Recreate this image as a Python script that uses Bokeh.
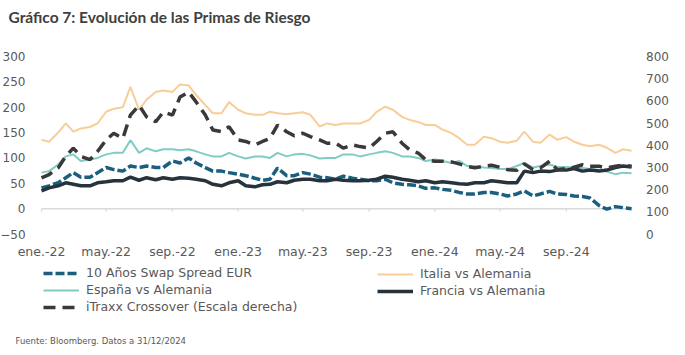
import pandas as pd
from bokeh.plotting import figure
from bokeh.models import (Range1d, LinearAxis, FixedTicker, Legend,
                          LegendItem, Label)
from bokeh.embed import file_html
from bokeh.resources import INLINE

# ---------------- data (semi-monthly) ----------------
dates = [f"{y}-{m:02d}-{d:02d}" for y in (2022, 2023, 2024)
         for m in range(1, 13) for d in (1, 15)] + ["2024-12-31"]

swap = [41, 45, 51, 61, 71, 62, 62, 71, 81, 77, 74, 84, 81, 84, 81, 81, 94, 90, 100, 90, 81, 74, 74, 71,
        68, 65, 60, 56, 58, 80, 65, 65, 71, 68, 62, 61, 58, 64, 60, 58, 55, 55, 58, 51, 48, 47, 45, 40,
        41, 38, 36, 32, 29, 29, 32, 32, 29, 25, 29, 35, 25, 29, 34, 29, 28, 25, 24, 21, 6, -1, 4, 2, 0]

italia = [136, 132, 150, 168, 152, 158, 161, 168, 191, 197, 200, 240, 195, 215, 230, 233, 230, 245, 243, 224, 204, 188, 188, 210,
          195, 188, 185, 185, 191, 188, 186, 188, 190, 185, 162, 168, 165, 168, 168, 168, 175, 191, 201, 195, 181, 175, 171, 165,
          165, 156, 149, 139, 126, 126, 142, 139, 132, 130, 134, 152, 132, 130, 146, 136, 141, 132, 126, 123, 126, 120, 110, 117, 114]

espana = [71, 74, 87, 103, 107, 94, 97, 100, 107, 110, 110, 135, 110, 119, 113, 117, 117, 115, 117, 113, 107, 103, 103, 110,
          103, 99, 103, 103, 100, 110, 103, 107, 108, 105, 99, 100, 100, 107, 107, 103, 107, 110, 113, 110, 103, 103, 100, 94,
          97, 94, 90, 94, 84, 84, 81, 80, 78, 78, 84, 90, 81, 84, 87, 82, 82, 81, 80, 78, 76, 73, 68, 71, 70]

francia = [35, 41, 45, 51, 48, 45, 45, 51, 53, 55, 55, 62, 56, 61, 57, 61, 58, 61, 60, 58, 55, 48, 45, 51,
           55, 45, 43, 47, 48, 53, 51, 56, 58, 58, 55, 55, 58, 56, 55, 55, 56, 58, 64, 62, 58, 56, 53, 55,
           51, 53, 51, 49, 48, 51, 51, 55, 53, 51, 51, 74, 71, 74, 73, 76, 76, 79, 74, 76, 74, 76, 81, 84, 82]

itraxx = [253, 268, 298, 350, 387, 350, 335, 372, 424, 454, 431, 536, 580, 528, 506, 550, 536, 617, 640, 595, 536, 469, 461, 483,
          424, 417, 402, 417, 431, 491, 461, 443, 454, 439, 424, 409, 409, 387, 402, 394, 387, 417, 454, 461, 409, 380, 365, 335,
          328, 328, 325, 316, 305, 298, 305, 310, 301, 290, 287, 316, 290, 298, 328, 290, 295, 301, 312, 305, 305, 298, 305, 310, 305]

tick_dates = ["2022-01-01", "2022-05-01", "2022-09-01", "2023-01-01", "2023-05-01",
              "2023-09-01", "2024-01-01", "2024-05-01", "2024-09-01"]
tick_labels = ["ene.-22", "may.-22", "sep.-22", "ene.-23", "may.-23",
               "sep.-23", "ene.-24", "may.-24", "sep.-24"]
left_ticks = [-50, 0, 50, 100, 150, 200, 250, 300]
right_ticks = [0, 100, 200, 300, 400, 500, 600, 700, 800]

title_text = "Gráfico 7: Evolución de las Primas de Riesgo"
source_text = "Fuente: Bloomberg. Datos a 31/12/2024"

# ---------------- layout helpers (whole canvas is the frame) ----------------
W, H = 685, 355
PX_DAY = 590.6 / 1096.0                       # horizontal scale
PX_UNIT = 177.5 / 350.0                       # left-axis vertical scale
X0 = pd.Timestamp("2022-01-01") - pd.Timedelta(days=41 / PX_DAY)
X1 = X0 + pd.Timedelta(days=W / PX_DAY)
Y_HI = 300 + 56 / PX_UNIT
Y_LO = -50 - (H - 233.5) / PX_UNIT
K = 800 / 350.0

def ms(d):
    return int(pd.Timestamp(d).value // 10**6)

# ---------------- figure ----------------
x = pd.to_datetime(dates)
FONT = "DejaVu Sans"
GREY = "#595959"

p = figure(width=W, height=H, x_axis_type="datetime",
           x_range=Range1d(X0, X1), y_range=Range1d(Y_LO, Y_HI),
           output_backend="svg", toolbar_location=None, title_location=None,
           min_border=0)
p.extra_y_ranges = {"right": Range1d((Y_LO + 50) * K, (Y_HI + 50) * K)}
p.outline_line_color = None
p.xgrid.visible = False
p.ygrid.visible = False
p.background_fill_color = "white"
p.border_fill_color = "white"

# x axis (labels only), placed at -50 inside the frame
tick_ms = [ms(d) for d in tick_dates]
xa = p.xaxis[0]
xa.fixed_location = -50
xa.ticker = FixedTicker(ticks=tick_ms)
xa.major_label_overrides = {t: lab for t, lab in zip(tick_ms, tick_labels)}
xa.axis_line_color = None
xa.major_tick_line_color = None
xa.minor_tick_line_color = None
xa.major_label_standoff = 4
xa.major_label_text_font = FONT
xa.major_label_text_font_size = "12.5px"
xa.major_label_text_color = GREY

# left axis
ya = p.yaxis[0]
ya.fixed_location = ms("2022-01-01")
ya.ticker = FixedTicker(ticks=left_ticks)
ya.axis_line_color = None
ya.major_tick_line_color = None
ya.minor_tick_line_color = None
ya.major_label_standoff = 10
ya.major_label_text_font = FONT
ya.major_label_text_font_size = "12px"
ya.major_label_text_color = GREY

# right axis
ra = LinearAxis(y_range_name="right", ticker=FixedTicker(ticks=right_ticks))
ra.fixed_location = ms("2025-01-01")
ra.axis_line_color = None
ra.major_tick_line_color = None
ra.minor_tick_line_color = None
ra.major_label_standoff = 8
ra.major_label_text_font = FONT
ra.major_label_text_font_size = "12px"
ra.major_label_text_color = GREY
p.add_layout(ra, "right")

# zero line with small ticks
tick_dt = pd.to_datetime(tick_dates)
p.segment(x0=[pd.Timestamp("2022-01-01")], y0=[0], x1=[pd.Timestamp("2025-01-01")], y1=[0],
          line_color="#d9d9d9", line_width=1.5)
p.segment(x0=tick_dt, y0=[0] * len(tick_dt), x1=tick_dt, y1=[-6] * len(tick_dt),
          line_color="#d9d9d9", line_width=1.2)

# series
r_swap = p.line(x, swap, line_color="#1B5E7E", line_width=3.5, line_dash="9 3")
r_ita = p.line(x, italia, line_color="#F9CD98", line_width=2)
r_esp = p.line(x, espana, line_color="#80CCC4", line_width=2)
r_fra = p.line(x, francia, line_color="#26333D", line_width=3.5)
r_itx = p.line(x, itraxx, line_color="#3A3838", line_width=3.5, line_dash="12 7",
               y_range_name="right")

common = dict(orientation="vertical", glyph_width=36, glyph_height=14, label_height=14,
              label_standoff=7, spacing=2, padding=0, margin=0,
              border_line_color=None, background_fill_alpha=0,
              label_text_font=FONT, label_text_font_size="12.5px", label_text_color=GREY)
legend1 = Legend(items=[
    LegendItem(label="10 Años Swap Spread EUR", renderers=[r_swap]),
    LegendItem(label="España vs Alemania", renderers=[r_esp]),
    LegendItem(label="iTraxx Crossover (Escala derecha)", renderers=[r_itx]),
], location=(43, 41), **common)
legend2 = Legend(items=[
    LegendItem(label="Italia vs Alemania", renderers=[r_ita]),
    LegendItem(label="Francia vs Alemania", renderers=[r_fra]),
], location=(377, 57), **common)
p.add_layout(legend1)
p.add_layout(legend2)

p.add_layout(Label(x=8, y=339, x_units="screen", y_units="screen", text=title_text,
                   text_font="Lato", text_font_style="bold", text_font_size="15.5px",
                   text_color="#404040", text_baseline="middle"))
p.add_layout(Label(x=15, y=15, x_units="screen", y_units="screen", text=source_text,
                   text_font=FONT, text_font_size="8.5px", text_color=GREY,
                   text_baseline="middle"))

open("out.html", "w").write(file_html(p, INLINE))
